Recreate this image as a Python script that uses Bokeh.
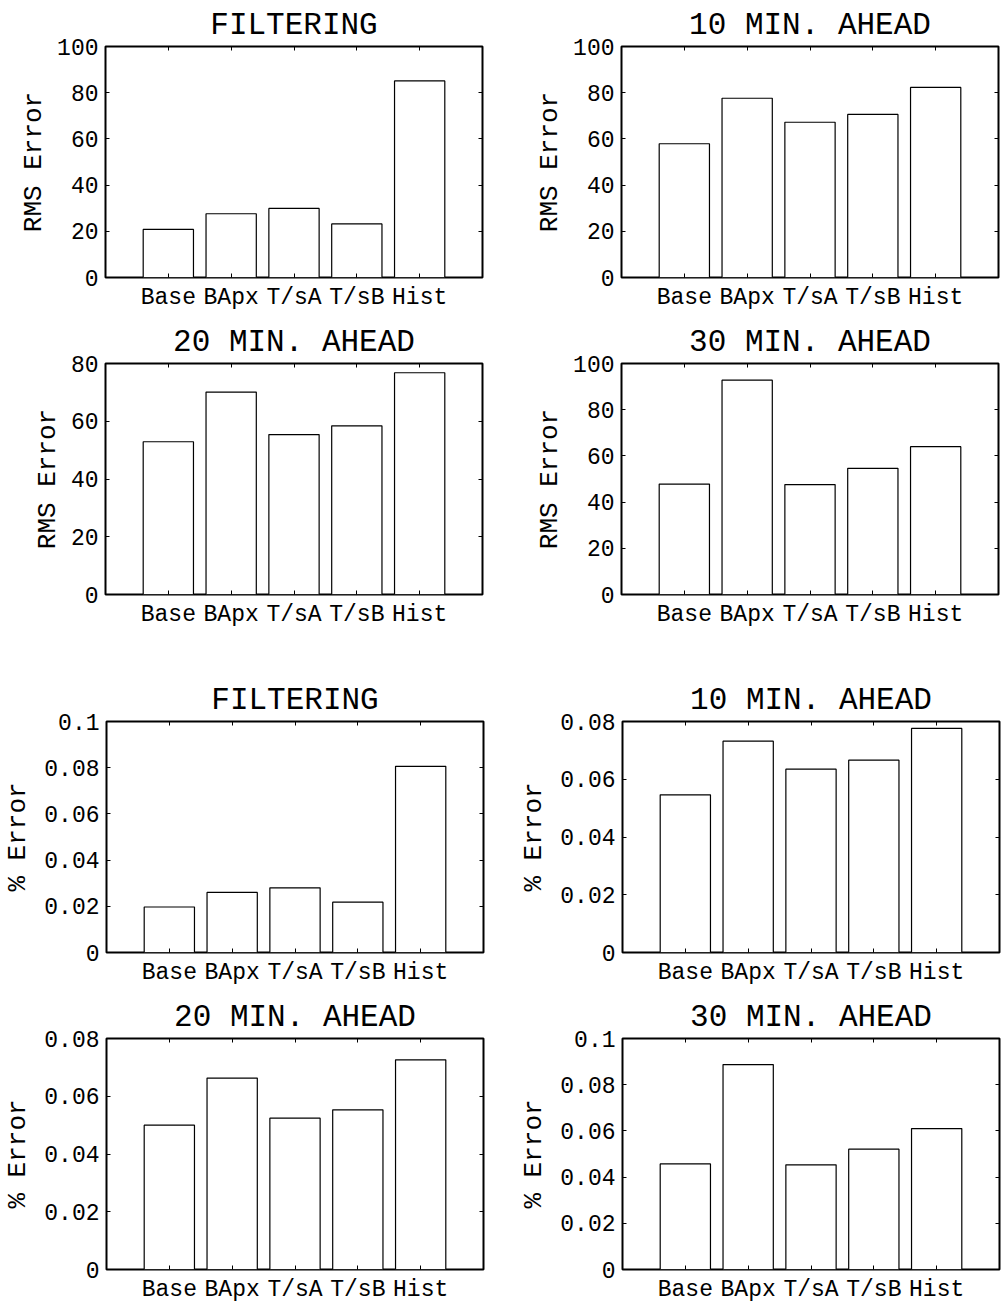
from bokeh.plotting import figure
from bokeh.models import (Range1d, FactorRange, FixedTicker, LinearAxis,
                          CategoricalAxis, ColumnDataSource)
from bokeh.layouts import column, row
from bokeh.embed import file_html
from bokeh.resources import INLINE

# ---------------- data ----------------
categories = ["Base", "BApx", "T/sA", "T/sB", "Hist"]

panel_titles = ["FILTERING", "10 MIN. AHEAD", "20 MIN. AHEAD", "30 MIN. AHEAD"]

rms_filtering = [20.8, 27.6, 29.9, 23.2, 85.1]
rms_10min = [57.9, 77.6, 67.2, 70.6, 82.3]
rms_20min = [52.9, 70.1, 55.4, 58.4, 76.8]
rms_30min = [47.8, 92.8, 47.6, 54.6, 64.0]

pct_filtering = [0.0197, 0.0260, 0.0280, 0.0218, 0.0806]
pct_10min = [0.0546, 0.0732, 0.0635, 0.0666, 0.0776]
pct_20min = [0.0500, 0.0663, 0.0524, 0.0553, 0.0726]
pct_30min = [0.0457, 0.0887, 0.0453, 0.0521, 0.0610]

rms_ticks_100 = [0, 20, 40, 60, 80, 100]
rms_labels_100 = ["0", "20", "40", "60", "80", "100"]
rms_ticks_80 = [0, 20, 40, 60, 80]
rms_labels_80 = ["0", "20", "40", "60", "80"]
pct_ticks_01 = [0, 0.02, 0.04, 0.06, 0.08, 0.1]
pct_labels_01 = ["0", "0.02", "0.04", "0.06", "0.08", "0.1"]
pct_ticks_008 = [0, 0.02, 0.04, 0.06, 0.08]
pct_labels_008 = ["0", "0.02", "0.04", "0.06", "0.08"]

rms_label = "RMS Error"
pct_label = "% Error"

FONT = "Liberation Mono"

# column borders (left, right), row borders (top, bottom)
col_borders = [(105, 18), (121, 6)]
row_borders = [(46, 38), (48, 79), (48, 38), (48, 36)]


def make_panel(title, values, ticks, tick_labels, ylabel, label_standoff, col, rw):
    bl, br = col_borders[col]
    bt, bb = row_borders[rw]
    x_range = FactorRange(factors=categories, range_padding=0.5,
                          range_padding_units="absolute")
    y_range = Range1d(ticks[0], ticks[-1])
    p = figure(x_range=x_range, y_range=y_range,
               frame_width=377, frame_height=231,
               min_border_left=bl, min_border_right=br,
               min_border_top=bt, min_border_bottom=bb,
               output_backend="svg", toolbar_location=None,
               title=title, background_fill_color="white",
               border_fill_color="white")
    p.title.text_font = FONT
    p.title.text_font_size = "31px"
    p.title.text_font_style = "normal"
    p.title.text_color = "black"
    p.title.align = "center"
    p.title.standoff = 7

    src = ColumnDataSource(dict(cat=categories, val=values))
    p.vbar(x="cat", top="val", width=0.8, source=src,
           fill_color="white", line_color="black", line_width=1.2)

    p.xgrid.visible = False
    p.ygrid.visible = False
    p.outline_line_color = "black"
    p.outline_line_width = 2
    p.outline_line_alpha = 1

    overrides = {t: l for t, l in zip(ticks, tick_labels)}

    # left axis
    ya = p.yaxis[0]
    ya.ticker = FixedTicker(ticks=ticks)
    ya.major_label_overrides = overrides
    ya.major_tick_in = 4
    ya.major_tick_out = 0
    ya.minor_tick_line_color = None
    ya.axis_line_color = None
    ya.major_tick_line_color = "black"
    ya.major_tick_line_width = 1
    ya.major_label_text_font = FONT
    ya.major_label_text_font_size = "23px"
    ya.major_label_text_color = "black"
    ya.major_label_standoff = 7
    ya.axis_label = ylabel
    ya.axis_label_text_font = FONT
    ya.axis_label_text_font_size = "26px"
    ya.axis_label_text_font_style = "normal"
    ya.axis_label_text_color = "black"
    ya.axis_label_standoff = label_standoff

    # bottom axis
    xa = p.xaxis[0]
    xa.major_tick_in = 4
    xa.major_tick_out = 0
    xa.axis_line_color = None
    xa.major_tick_line_color = "black"
    xa.major_label_text_font = FONT
    xa.major_label_text_font_size = "23px"
    xa.major_label_text_color = "black"
    xa.major_label_standoff = 7

    # right axis (ticks only, labels not drawn)
    ra = LinearAxis(ticker=FixedTicker(ticks=ticks), major_tick_in=4,
                    major_tick_out=0, minor_tick_line_color=None,
                    axis_line_color=None, major_label_text_color=None,
                    major_label_text_font_size="1px",
                    major_label_standoff=0, major_tick_line_color="black")
    p.add_layout(ra, "right")

    # top axis (ticks only, labels not drawn)
    ta = CategoricalAxis(major_tick_in=4, major_tick_out=0,
                         axis_line_color=None, major_label_text_color=None,
                         major_label_text_font_size="1px",
                         major_label_standoff=0, major_tick_line_color="black")
    p.add_layout(ta, "above")
    return p


p1 = make_panel(panel_titles[0], rms_filtering, rms_ticks_100, rms_labels_100, rms_label, 5, 0, 0)
p2 = make_panel(panel_titles[1], rms_10min, rms_ticks_100, rms_labels_100, rms_label, 5, 1, 0)
p3 = make_panel(panel_titles[2], rms_20min, rms_ticks_80, rms_labels_80, rms_label, 5, 0, 1)
p4 = make_panel(panel_titles[3], rms_30min, rms_ticks_100, rms_labels_100, rms_label, 5, 1, 1)
p5 = make_panel(panel_titles[0], pct_filtering, pct_ticks_01, pct_labels_01, pct_label, 8, 0, 2)
p6 = make_panel(panel_titles[1], pct_10min, pct_ticks_008, pct_labels_008, pct_label, 8, 1, 2)
p7 = make_panel(panel_titles[2], pct_20min, pct_ticks_008, pct_labels_008, pct_label, 8, 0, 3)
p8 = make_panel(panel_titles[3], pct_30min, pct_ticks_01, pct_labels_01, pct_label, 8, 1, 3)

layout = column(row(p1, p2), row(p3, p4), row(p5, p6), row(p7, p8))

open("out.html", "w").write(file_html(layout, INLINE))
